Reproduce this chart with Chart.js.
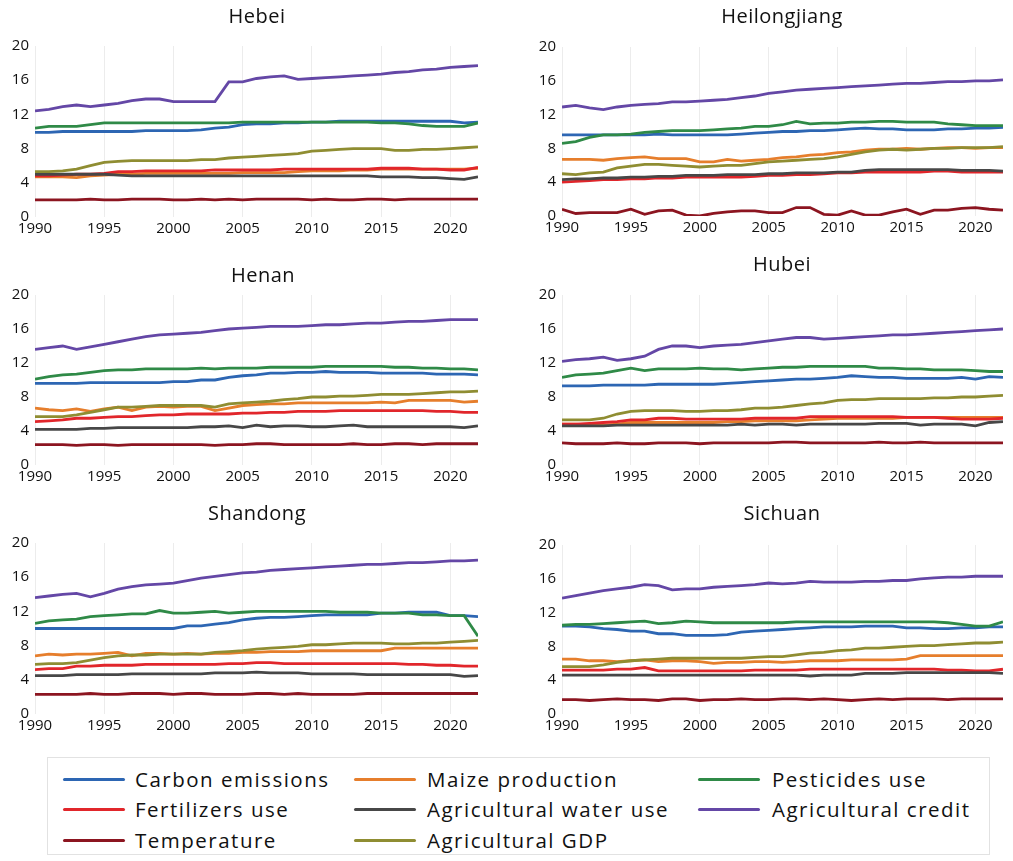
<!DOCTYPE html>
<html>
<head>
  <title>Provincial trends</title>
  <script src="https://cdn.jsdelivr.net/npm/chart.js"></script>
  <style>
    body { margin: 0; background: #fff; font-family: 'Open Sans', sans-serif; }
    #page { position: relative; width: 1013px; height: 861px; overflow: hidden; }
    canvas { position: absolute; }
    .title { position: absolute; transform: translate(-50%, -50%); font-size: 20px; letter-spacing: 0.5px; color: #111; white-space: nowrap; }
    #legend { position: absolute; left: 47px; top: 757px; width: 943px; height: 98px; border: 1px solid #e2e2e2; box-sizing: border-box; }
    .swatch { position: absolute; height: 3px; width: 62px; border-radius: 2px; }
    .ltext { position: absolute; font-size: 20.5px; letter-spacing: 1.5px; color: #111; transform: translateY(-50%); white-space: nowrap; }
  </style>
</head>
<body>
<div id="page"><div id="legend"></div></div>
<script>
  const years = [1990,1991,1992,1993,1994,1995,1996,1997,1998,1999,2000,2001,2002,2003,2004,2005,2006,2007,2008,2009,2010,2011,2012,2013,2014,2015,2016,2017,2018,2019,2020,2021,2022];
  const seriesNames = ['Carbon emissions', 'Maize production', 'Pesticides use', 'Fertilizers use', 'Agricultural water use', 'Agricultural credit', 'Temperature', 'Agricultural GDP'];
  const seriesColors = ['#2d66b3', '#e67e2c', '#2f8a47', '#e1262b', '#474747', '#6447a6', '#8c1520', '#8f8d32'];

  // Hebei
  const hebeiCarbon = [9.9,9.9,10.0,10.0,10.0,10.0,10.0,10.0,10.1,10.1, 10.1,10.1,10.2,10.4,10.5,10.8,10.9,10.9,11.0,11.0, 11.1,11.1,11.2,11.2,11.2,11.2,11.2,11.2,11.2,11.2, 11.2,11.0,11.1];
  const hebeiMaize = [4.7,4.7,4.7,4.6,4.8,4.9,5.0,5.0,5.1,5.1, 5.1,5.1,5.1,5.1,5.1,5.2,5.2,5.2,5.2,5.3, 5.4,5.4,5.4,5.5,5.5,5.6,5.6,5.6,5.6,5.6, 5.6,5.6,5.7];
  const hebeiPesticides = [10.4,10.6,10.6,10.6,10.8,11.0,11.0,11.0,11.0,11.0, 11.0,11.0,11.0,11.0,11.0,11.1,11.1,11.1,11.1,11.1, 11.1,11.1,11.1,11.1,11.1,11.0,11.0,10.9,10.7,10.6, 10.6,10.6,11.0];
  const hebeiFertilizers = [4.8,4.8,4.9,5.0,5.0,5.1,5.3,5.3,5.4,5.4, 5.4,5.4,5.4,5.5,5.5,5.5,5.5,5.5,5.6,5.6, 5.6,5.6,5.6,5.6,5.6,5.7,5.7,5.7,5.6,5.6, 5.5,5.5,5.8];
  const hebeiWater = [5.0,5.0,5.0,5.0,5.0,5.0,4.9,4.8,4.8,4.8, 4.8,4.8,4.8,4.8,4.8,4.8,4.8,4.8,4.8,4.8, 4.8,4.8,4.8,4.8,4.8,4.7,4.7,4.7,4.6,4.6, 4.5,4.4,4.7];
  const hebeiCredit = [12.4,12.6,12.9,13.1,12.9,13.1,13.3,13.6,13.8,13.8, 13.5,13.5,13.5,13.5,15.8,15.8,16.2,16.4,16.5,16.1, 16.2,16.3,16.4,16.5,16.6,16.7,16.9,17.0,17.2,17.3, 17.5,17.6,17.7];
  const hebeiTemperature = [2.0,2.0,2.0,2.0,2.1,2.0,2.0,2.1,2.1,2.1, 2.0,2.0,2.1,2.0,2.1,2.0,2.1,2.1,2.1,2.1, 2.0,2.1,2.0,2.0,2.1,2.1,2.0,2.1,2.1,2.1, 2.1,2.1,2.1];
  const hebeiGdp = [5.3,5.3,5.4,5.6,6.0,6.4,6.5,6.6,6.6,6.6, 6.6,6.6,6.7,6.7,6.9,7.0,7.1,7.2,7.3,7.4, 7.7,7.8,7.9,8.0,8.0,8.0,7.8,7.8,7.9,7.9, 8.0,8.1,8.2];

  // Heilongjiang
  const heilongjiangCarbon = [9.6,9.6,9.6,9.6,9.6,9.6,9.6,9.7,9.6,9.6, 9.6,9.6,9.6,9.7,9.8,9.9,10.0,10.0,10.1,10.1, 10.2,10.3,10.4,10.3,10.3,10.2,10.2,10.2,10.3,10.3, 10.4,10.4,10.5];
  const heilongjiangMaize = [6.7,6.7,6.7,6.6,6.8,6.9,7.0,6.8,6.8,6.8, 6.4,6.4,6.7,6.5,6.6,6.7,6.9,7.0,7.2,7.3, 7.5,7.6,7.8,7.9,7.9,8.0,7.9,8.0,8.1,8.1, 8.0,8.1,8.1];
  const heilongjiangPesticides = [8.6,8.8,9.3,9.6,9.6,9.7,9.9,10.0,10.1,10.1, 10.1,10.2,10.3,10.4,10.6,10.6,10.8,11.2,10.9,11.0, 11.0,11.1,11.1,11.2,11.2,11.1,11.1,11.1,10.9,10.8, 10.7,10.7,10.7];
  const heilongjiangFertilizers = [4.0,4.1,4.2,4.3,4.3,4.4,4.4,4.5,4.5,4.6, 4.6,4.6,4.6,4.6,4.7,4.8,4.8,4.9,4.9,5.0, 5.1,5.1,5.2,5.2,5.2,5.2,5.2,5.3,5.3,5.2, 5.2,5.2,5.2];
  const heilongjiangWater = [4.3,4.4,4.4,4.5,4.5,4.6,4.6,4.7,4.7,4.8, 4.8,4.8,4.9,4.9,4.9,5.0,5.0,5.1,5.1,5.1, 5.2,5.2,5.4,5.5,5.5,5.5,5.5,5.5,5.5,5.4, 5.4,5.4,5.3];
  const heilongjiangCredit = [12.9,13.1,12.8,12.6,12.9,13.1,13.2,13.3,13.5,13.5, 13.6,13.7,13.8,14.0,14.2,14.5,14.7,14.9,15.0,15.1, 15.2,15.3,15.4,15.5,15.6,15.7,15.7,15.8,15.9,15.9, 16.0,16.0,16.1];
  const heilongjiangTemperature = [0.8,0.3,0.4,0.4,0.4,0.8,0.2,0.6,0.7,0.1, 0.0,0.3,0.5,0.6,0.6,0.4,0.4,1.0,1.0,0.2, 0.1,0.6,0.1,0.1,0.5,0.8,0.2,0.7,0.7,0.9, 1.0,0.8,0.7];
  const heilongjiangGdp = [5.0,4.9,5.1,5.2,5.7,5.9,6.1,6.1,6.0,5.9, 5.8,5.9,6.0,6.0,6.2,6.4,6.5,6.6,6.7,6.8, 7.0,7.3,7.6,7.8,7.9,7.8,7.9,8.0,8.0,8.1, 8.1,8.1,8.2];

  // Henan
  const henanCarbon = [9.6,9.6,9.6,9.6,9.7,9.7,9.7,9.7,9.7,9.7, 9.8,9.8,10.0,10.0,10.3,10.5,10.6,10.8,10.8,10.9, 10.9,11.0,10.9,10.9,10.9,10.8,10.8,10.8,10.8,10.7, 10.7,10.7,10.6];
  const henanMaize = [6.7,6.5,6.4,6.6,6.3,6.6,6.8,6.4,6.8,6.9, 6.8,6.9,6.9,6.4,6.7,7.0,7.1,7.2,7.2,7.3, 7.3,7.3,7.3,7.3,7.3,7.4,7.3,7.6,7.6,7.6, 7.6,7.4,7.5];
  const henanPesticides = [10.1,10.4,10.6,10.7,10.9,11.1,11.2,11.2,11.3,11.3, 11.3,11.3,11.4,11.3,11.4,11.4,11.4,11.5,11.5,11.5, 11.5,11.6,11.6,11.6,11.6,11.6,11.5,11.5,11.4,11.4, 11.3,11.3,11.2];
  const henanFertilizers = [5.1,5.2,5.3,5.5,5.5,5.6,5.7,5.7,5.8,5.9, 5.9,6.0,6.0,6.0,6.0,6.1,6.1,6.2,6.2,6.3, 6.3,6.3,6.4,6.4,6.4,6.4,6.4,6.4,6.4,6.3, 6.3,6.2,6.2];
  const henanWater = [4.2,4.2,4.2,4.2,4.3,4.3,4.4,4.4,4.4,4.4, 4.4,4.4,4.5,4.5,4.6,4.4,4.7,4.5,4.6,4.6, 4.5,4.5,4.6,4.7,4.5,4.5,4.5,4.5,4.5,4.5, 4.5,4.4,4.6];
  const henanCredit = [13.6,13.8,14.0,13.6,13.9,14.2,14.5,14.8,15.1,15.3, 15.4,15.5,15.6,15.8,16.0,16.1,16.2,16.3,16.3,16.3, 16.4,16.5,16.5,16.6,16.7,16.7,16.8,16.9,16.9,17.0, 17.1,17.1,17.1];
  const henanTemperature = [2.4,2.4,2.4,2.3,2.4,2.4,2.3,2.4,2.4,2.4, 2.4,2.4,2.4,2.3,2.4,2.4,2.5,2.5,2.4,2.4, 2.4,2.4,2.4,2.5,2.4,2.4,2.5,2.5,2.4,2.5, 2.5,2.5,2.5];
  const henanGdp = [5.7,5.7,5.7,5.9,6.2,6.5,6.8,6.8,6.9,7.0, 7.0,7.0,7.0,6.8,7.2,7.3,7.4,7.5,7.7,7.8, 8.0,8.0,8.1,8.1,8.2,8.3,8.3,8.3,8.4,8.5, 8.6,8.6,8.7];

  // Hubei
  const hubeiCarbon = [9.3,9.3,9.3,9.4,9.4,9.4,9.4,9.5,9.5,9.5, 9.5,9.5,9.6,9.7,9.8,9.9,10.0,10.1,10.1,10.2, 10.3,10.5,10.4,10.3,10.3,10.2,10.2,10.2,10.2,10.3, 10.1,10.4,10.3];
  const hubeiMaize = [4.8,4.8,4.7,4.7,4.8,5.0,5.0,5.0,5.0,5.0, 5.0,5.0,5.1,5.1,5.2,5.2,5.2,5.2,5.3,5.4, 5.5,5.5,5.5,5.5,5.5,5.6,5.6,5.6,5.6,5.6, 5.6,5.6,5.6];
  const hubeiPesticides = [10.3,10.6,10.7,10.8,11.1,11.4,11.1,11.3,11.3,11.3, 11.4,11.3,11.3,11.2,11.3,11.4,11.5,11.5,11.6,11.6, 11.6,11.6,11.6,11.4,11.4,11.3,11.3,11.2,11.2,11.2, 11.1,11.0,11.0];
  const hubeiFertilizers = [4.8,4.8,4.9,5.0,5.1,5.3,5.3,5.5,5.5,5.4, 5.4,5.4,5.4,5.4,5.5,5.5,5.5,5.5,5.7,5.7, 5.7,5.7,5.7,5.7,5.7,5.6,5.6,5.6,5.5,5.4, 5.4,5.4,5.5];
  const hubeiWater = [4.6,4.6,4.6,4.6,4.7,4.7,4.7,4.7,4.7,4.7, 4.7,4.7,4.7,4.8,4.7,4.8,4.8,4.7,4.8,4.8, 4.8,4.8,4.8,4.9,4.9,4.9,4.7,4.8,4.8,4.8, 4.6,5.0,5.1];
  const hubeiCredit = [12.2,12.4,12.5,12.7,12.3,12.5,12.8,13.6,14.0,14.0, 13.8,14.0,14.1,14.2,14.4,14.6,14.8,15.0,15.0,14.8, 14.9,15.0,15.1,15.2,15.3,15.3,15.4,15.5,15.6,15.7, 15.8,15.9,16.0];
  const hubeiTemperature = [2.6,2.5,2.5,2.5,2.6,2.5,2.5,2.6,2.6,2.6, 2.5,2.6,2.6,2.6,2.6,2.6,2.7,2.7,2.6,2.6, 2.6,2.6,2.6,2.7,2.6,2.6,2.7,2.6,2.6,2.6, 2.6,2.6,2.6];
  const hubeiGdp = [5.3,5.3,5.3,5.5,6.0,6.3,6.4,6.4,6.4,6.3, 6.3,6.4,6.4,6.5,6.7,6.7,6.8,7.0,7.2,7.3, 7.6,7.7,7.7,7.8,7.8,7.8,7.8,7.9,7.9,8.0, 8.0,8.1,8.2];

  // Shandong
  const shandongCarbon = [10.0,10.0,10.0,10.0,10.0,10.0,10.0,10.0,10.0,10.0, 10.0,10.3,10.3,10.5,10.7,11.0,11.2,11.3,11.3,11.4, 11.5,11.6,11.6,11.6,11.6,11.8,11.8,11.9,11.9,11.9, 11.5,11.5,11.4];
  const shandongMaize = [6.8,7.0,6.9,7.0,7.0,7.1,7.2,6.8,7.1,7.1, 7.0,7.1,7.0,7.1,7.1,7.2,7.2,7.3,7.3,7.3, 7.4,7.4,7.4,7.4,7.4,7.4,7.7,7.7,7.7,7.7, 7.7,7.7,7.7];
  const shandongPesticides = [10.6,10.9,11.0,11.1,11.4,11.5,11.6,11.7,11.7,12.1, 11.8,11.8,11.9,12.0,11.8,11.9,12.0,12.0,12.0,12.0, 12.0,12.0,11.9,11.9,11.9,11.8,11.8,11.8,11.6,11.6, 11.5,11.5,9.1];
  const shandongFertilizers = [5.2,5.3,5.3,5.6,5.6,5.7,5.7,5.7,5.8,5.8, 5.8,5.8,5.8,5.8,5.9,5.9,6.0,6.0,5.9,5.9, 5.9,5.9,5.9,5.9,5.9,5.9,5.9,5.8,5.8,5.7, 5.7,5.6,5.6];
  const shandongWater = [4.5,4.5,4.5,4.6,4.6,4.6,4.6,4.7,4.7,4.7, 4.7,4.7,4.7,4.8,4.8,4.8,4.9,4.8,4.8,4.8, 4.7,4.7,4.7,4.7,4.6,4.6,4.6,4.6,4.6,4.6, 4.6,4.4,4.5];
  const shandongCredit = [13.6,13.8,14.0,14.1,13.7,14.1,14.6,14.9,15.1,15.2, 15.3,15.6,15.9,16.1,16.3,16.5,16.6,16.8,16.9,17.0, 17.1,17.2,17.3,17.4,17.5,17.5,17.6,17.7,17.7,17.8, 17.9,17.9,18.0];
  const shandongTemperature = [2.3,2.3,2.3,2.3,2.4,2.3,2.3,2.4,2.4,2.4, 2.3,2.4,2.4,2.3,2.3,2.3,2.4,2.4,2.3,2.4, 2.3,2.3,2.3,2.3,2.4,2.4,2.4,2.4,2.4,2.4, 2.4,2.4,2.4];
  const shandongGdp = [5.8,5.9,5.9,6.0,6.3,6.6,6.8,6.9,6.9,7.0, 7.0,7.0,7.0,7.2,7.3,7.4,7.6,7.7,7.8,7.9, 8.1,8.1,8.2,8.3,8.3,8.3,8.2,8.2,8.3,8.3, 8.4,8.5,8.6];

  // Sichuan
  const sichuanCarbon = [10.4,10.4,10.3,10.1,10.0,9.8,9.8,9.5,9.5,9.3, 9.3,9.3,9.4,9.7,9.8,9.9,10.0,10.1,10.2,10.3, 10.3,10.3,10.4,10.4,10.4,10.2,10.2,10.1,10.1,10.2, 10.2,10.3,10.3];
  const sichuanMaize = [6.5,6.5,6.3,6.3,6.2,6.3,6.4,6.2,6.3,6.3, 6.2,6.0,6.1,6.1,6.2,6.2,6.1,6.2,6.3,6.3, 6.3,6.4,6.4,6.4,6.4,6.5,6.9,6.9,6.9,6.9, 6.9,6.9,6.9];
  const sichuanPesticides = [10.5,10.6,10.6,10.7,10.8,10.9,11.0,10.7,10.8,11.0, 10.9,10.8,10.8,10.8,10.8,10.8,10.8,10.9,10.9,10.9, 10.9,10.9,10.9,10.9,10.9,10.9,10.9,10.9,10.8,10.6, 10.4,10.4,10.9];
  const sichuanFertilizers = [5.2,5.2,5.2,5.2,5.3,5.3,5.5,5.1,5.1,5.1, 5.1,5.1,5.1,5.1,5.2,5.2,5.2,5.2,5.3,5.3, 5.3,5.3,5.3,5.3,5.3,5.3,5.3,5.3,5.2,5.2, 5.1,5.1,5.3];
  const sichuanWater = [4.6,4.6,4.6,4.6,4.6,4.6,4.6,4.6,4.6,4.6, 4.6,4.6,4.6,4.6,4.6,4.6,4.6,4.6,4.5,4.6, 4.6,4.6,4.8,4.8,4.8,4.9,4.9,4.9,4.9,4.9, 4.9,4.9,4.8];
  const sichuanCredit = [13.7,14.0,14.3,14.6,14.8,15.0,15.3,15.2,14.7,14.8, 14.8,15.0,15.1,15.2,15.3,15.5,15.4,15.5,15.7,15.6, 15.6,15.6,15.7,15.7,15.8,15.8,16.0,16.1,16.2,16.2, 16.3,16.3,16.3];
  const sichuanTemperature = [1.7,1.7,1.6,1.7,1.8,1.7,1.7,1.6,1.8,1.8, 1.6,1.7,1.7,1.8,1.7,1.7,1.8,1.8,1.7,1.8, 1.7,1.6,1.7,1.8,1.7,1.8,1.8,1.8,1.7,1.8, 1.8,1.8,1.8];
  const sichuanGdp = [5.6,5.6,5.6,5.8,6.1,6.3,6.4,6.5,6.6,6.6, 6.6,6.6,6.6,6.6,6.7,6.8,6.8,7.0,7.2,7.3, 7.5,7.6,7.8,7.8,7.9,8.0,8.1,8.1,8.2,8.3, 8.4,8.4,8.5];

  // plot area of each panel in page pixels: left, top, right, bottom
  const panels = [
    { title: 'Hebei', tx: 257, ty: 15, area: [35, 46, 478, 217],
      series: [hebeiCarbon, hebeiMaize, hebeiPesticides, hebeiFertilizers, hebeiWater, hebeiCredit, hebeiTemperature, hebeiGdp] },
    { title: 'Heilongjiang', tx: 782, ty: 15, area: [562, 47, 1003, 216],
      series: [heilongjiangCarbon, heilongjiangMaize, heilongjiangPesticides, heilongjiangFertilizers, heilongjiangWater, heilongjiangCredit, heilongjiangTemperature, heilongjiangGdp] },
    { title: 'Henan', tx: 263, ty: 274, area: [35, 295, 478, 465],
      series: [henanCarbon, henanMaize, henanPesticides, henanFertilizers, henanWater, henanCredit, henanTemperature, henanGdp] },
    { title: 'Hubei', tx: 782, ty: 263, area: [562, 295, 1003, 465],
      series: [hubeiCarbon, hubeiMaize, hubeiPesticides, hubeiFertilizers, hubeiWater, hubeiCredit, hubeiTemperature, hubeiGdp] },
    { title: 'Shandong', tx: 257, ty: 512, area: [35, 543, 478, 714],
      series: [shandongCarbon, shandongMaize, shandongPesticides, shandongFertilizers, shandongWater, shandongCredit, shandongTemperature, shandongGdp] },
    { title: 'Sichuan', tx: 782, ty: 512, area: [562, 545, 1003, 714],
      series: [sichuanCarbon, sichuanMaize, sichuanPesticides, sichuanFertilizers, sichuanWater, sichuanCredit, sichuanTemperature, sichuanGdp] }
  ];

  const page = document.getElementById('page');
  const tickFont = { family: "'Open Sans', sans-serif", size: 15 };
  const PAD_L = 35, PAD_T = 20, PAD_R = 20, PAD_B = 24, Y_W = 32;

  panels.forEach(p => {
    const [L, T, R, B] = p.area;
    const cv = document.createElement('canvas');
    cv.width = R - L + PAD_L + PAD_R;
    cv.height = B - T + PAD_T + PAD_B;
    cv.style.left = (L - PAD_L) + 'px';
    cv.style.top = (T - PAD_T) + 'px';
    page.appendChild(cv);

    const t = document.createElement('div');
    t.className = 'title';
    t.textContent = p.title;
    t.style.left = p.tx + 'px';
    t.style.top = p.ty + 'px';
    page.appendChild(t);

    new Chart(cv, {
      type: 'line',
      data: {
        labels: years,
        datasets: seriesNames.map((name, i) => ({
          label: name,
          data: p.series[i],
          borderColor: seriesColors[i],
          backgroundColor: seriesColors[i],
          borderWidth: 2.8,
          pointRadius: 0,
          tension: 0,
          fill: false,
          order: seriesNames.length - i
        }))
      },
      options: {
        responsive: false,
        animation: false,
        events: [],
        layout: { padding: { left: PAD_L - Y_W, top: PAD_T, right: PAD_R, bottom: 0 } },
        plugins: { legend: { display: false }, tooltip: { enabled: false } },
        scales: {
          x: {
            type: 'linear', min: 1990, max: 2022,
            ticks: { stepSize: 5, includeBounds: false, font: tickFont, color: '#111', padding: 3, maxRotation: 0,
                     callback: v => String(v) },
            grid: { color: '#ececec', drawTicks: false },
            border: { display: false },
            afterFit: s => { s.height = PAD_B; }
          },
          y: {
            min: 0, max: 20,
            ticks: { stepSize: 4, font: tickFont, color: '#111', padding: 6 },
            grid: { display: false, drawTicks: false },
            border: { display: false },
            afterFit: s => { s.width = Y_W; }
          }
        }
      }
    });
  });

  // legend
  const legend = document.getElementById('legend');
  const lineX = [15, 306, 650], textX = [87, 379, 724], rowY = [21, 51, 82];
  seriesNames.forEach((name, i) => {
    const r = Math.floor(i / 3), c = i % 3;
    const sw = document.createElement('div');
    sw.className = 'swatch';
    sw.style.background = seriesColors[i];
    sw.style.left = lineX[c] + 'px';
    sw.style.top = (rowY[r] - 1.5) + 'px';
    legend.appendChild(sw);
    const tx = document.createElement('div');
    tx.className = 'ltext';
    tx.textContent = name;
    tx.style.left = textX[c] + 'px';
    tx.style.top = rowY[r] + 'px';
    legend.appendChild(tx);
  });
</script>
</body>
</html>
